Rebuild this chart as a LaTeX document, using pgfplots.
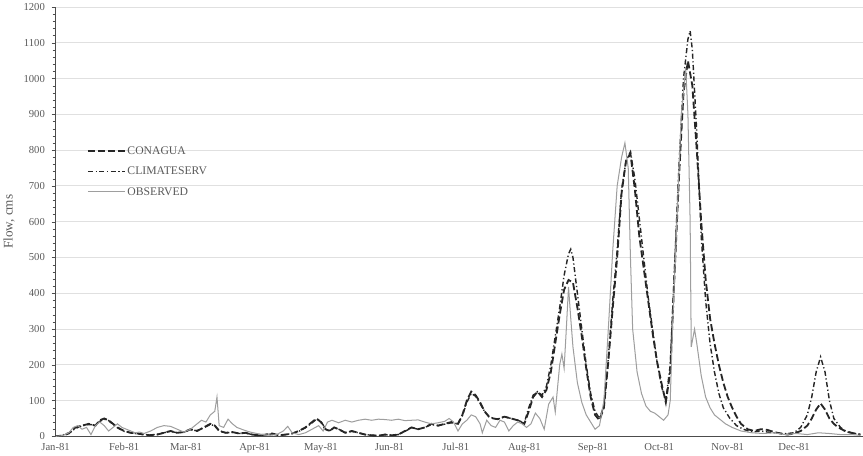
\documentclass[border=0pt]{standalone}
\usepackage{fontspec}
\setmainfont{Liberation Serif}
\usepackage{pgfplots}
\pgfplotsset{compat=1.18}
\usepackage{pgfplotstable}
\definecolor{obsgray}{gray}{0.62}
\definecolor{txtgray}{gray}{0.35}

\pgfplotstableread{
day val
0 0
3 2
6 8
9 25
12 30
15 35
18 30
20 45
22 50
24 45
26 35
28 25
31 15
34 10
37 8
40 5
43 3
46 5
49 10
52 15
55 10
58 12
61 20
64 15
67 25
70 35
72 30
74 15
77 10
80 12
83 8
86 10
89 5
92 3
95 5
98 8
101 3
104 5
107 8
110 15
113 25
116 40
118 50
120 40
122 20
124 15
126 25
128 20
131 10
134 15
137 10
140 5
143 3
146 2
149 5
152 3
155 5
158 15
161 25
164 20
167 25
170 35
173 30
176 35
179 40
182 35
184 60
186 100
188 125
190 115
192 95
194 70
196 55
198 50
200 48
203 55
206 50
209 45
212 35
214 70
216 110
218 125
220 110
222 130
224 180
226 260
228 340
230 410
232 437
234 430
236 360
238 280
240 190
242 110
244 60
246 45
248 80
250 210
252 360
254 500
256 680
258 770
260 790
262 690
264 560
266 470
268 380
270 290
272 210
274 150
276 95
278 180
280 460
282 730
284 960
286 1050
288 980
290 800
292 600
294 440
296 330
298 260
300 200
302 150
304 110
306 80
308 55
310 35
313 20
316 15
319 20
322 18
325 12
328 8
331 5
334 8
337 15
340 30
342 50
344 75
346 92
348 75
350 50
352 35
354 25
357 15
360 10
364 5
}\conagua

\pgfplotstableread{
day val
0 0
3 3
6 10
9 22
12 30
15 33
18 32
20 42
22 48
24 44
26 33
28 24
31 14
34 10
37 7
40 5
43 4
46 6
49 10
52 14
55 10
58 12
61 18
64 16
67 24
70 33
72 30
74 16
77 10
80 11
83 8
86 9
89 5
92 3
95 5
98 7
101 3
104 5
107 8
110 14
113 24
116 38
118 48
120 42
122 22
124 16
126 24
128 20
131 11
134 14
137 10
140 5
143 3
146 2
149 5
152 3
155 5
158 14
161 24
164 20
167 25
170 33
173 30
176 34
179 38
182 35
184 58
186 95
188 120
190 112
192 92
194 70
196 56
198 50
200 48
203 55
206 50
209 45
212 38
214 80
216 115
218 125
220 115
222 140
224 200
226 280
228 360
230 450
232 510
233 523
234 500
236 400
238 300
240 200
242 120
244 70
246 50
248 85
250 220
252 380
254 520
256 690
258 770
260 795
262 720
264 610
266 500
268 390
270 300
272 210
274 140
276 100
278 200
280 480
282 760
284 1000
286 1110
287 1133
288 1080
290 850
292 560
294 380
296 260
298 180
300 120
302 80
305 50
308 30
311 20
315 12
319 15
322 12
325 10
328 8
331 8
334 10
337 25
340 60
342 110
344 180
346 222
348 180
350 100
352 50
355 25
358 12
364 5
}\climateserv

\pgfplotstableread{
day val
0 0
3 2
6 10
8 25
10 30
12 20
14 25
16 5
18 30
20 40
22 30
24 15
26 25
28 35
30 25
32 20
34 15
36 10
38 12
40 8
43 15
46 25
49 30
52 28
55 20
58 12
61 20
64 35
66 45
68 40
70 60
72 70
73 110
74 30
76 25
78 48
80 35
82 25
85 18
88 12
91 8
94 5
97 3
100 5
103 15
105 28
107 10
110 5
113 10
116 20
119 30
121 15
123 40
125 45
128 38
131 45
134 40
137 45
140 48
143 45
146 48
149 47
152 45
155 48
158 44
161 45
164 46
167 40
170 35
173 38
176 42
178 50
180 40
182 15
184 35
186 45
188 60
190 55
192 35
193 10
195 45
197 30
199 25
201 45
203 40
205 15
207 30
209 40
211 35
213 25
215 35
217 65
219 50
221 20
223 90
225 110
226 68
228 200
229 230
230 190
231 300
232 418
233 330
234 250
236 150
238 95
240 60
242 40
244 20
246 30
248 100
250 300
252 520
254 700
256 780
257.5 820
259 750
260 500
261 300
263 180
265 120
267 85
269 70
271 65
273 55
275 45
277 60
278 100
279 300
281 600
283 900
285 1030
286 900
287 600
287.5 250
289 300
290 260
292 170
294 110
296 80
298 60
300 50
303 35
306 25
310 15
315 10
320 8
325 10
330 5
335 8
340 5
345 10
350 8
355 5
360 5
364 3
}\observed

\begin{document}
\begin{tikzpicture}
\begin{axis}[
  scale only axis,
  width=795pt, height=423pt,
  xmin=0, xmax=365,
  ymin=0, ymax=1200,
  axis lines=left,
  axis line style={draw=black!70, -},
  xtick={0,31,59,90,120,151,181,212,243,273,304,334},
  xticklabels={Jan-81,Feb-81,Mar-81,Apr-81,May-81,Jun-81,Jul-81,Aug-81,Sep-81,Oct-81,Nov-81,Dec-81},
  x tick style={draw=none},
  ytick={0,100,...,1200},
  minor y tick num=4,
  y tick style={draw=black!70},
  tick align=outside,
  major tick length=4pt,
  minor tick length=3pt,
  ymajorgrids,
  grid style={draw=black!12, line width=0.8pt},
  /pgf/number format/assume math mode=true,
  /pgf/number format/1000 sep={},
  tick label style={font=\fontsize{10.5}{11}\selectfont, text=txtgray},
  xticklabel style={yshift=1pt},
  yticklabel style={xshift=-3pt},
  ylabel={Flow, cms},
  ylabel style={font=\fontsize{13}{14}\selectfont, text=txtgray, yshift=2pt},
  legend style={at={(0.035,0.685)}, anchor=north west, draw=none, fill=none,
    font=\fontsize{11.5}{12}\selectfont, text=txtgray, row sep=7pt},
  legend cell align=left,
  legend image code/.code={\draw[#1] (0pt,0pt) -- (36pt,0pt);},
]
\addplot[black!85, line width=1.8pt, dash pattern=on 7pt off 3pt] table[x=day,y=val] {\conagua};
\addlegendentry{CONAGUA}
\addplot[black!85, line width=1.4pt, dash pattern=on 5pt off 2.5pt on 1.2pt off 2.5pt] table[x=day,y=val] {\climateserv};
\addlegendentry{CLIMATESERV}
\addplot[obsgray, line width=1pt] table[x=day,y=val] {\observed};
\addlegendentry{OBSERVED}
\end{axis}
\end{tikzpicture}
\end{document}
